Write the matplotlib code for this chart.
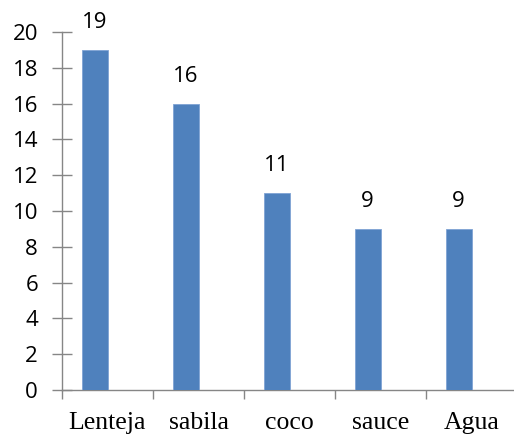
import matplotlib
matplotlib.use("Agg")
import matplotlib.pyplot as plt
import numpy as np

categories = ["Lenteja", "sabila", "coco", "sauce", "Agua"]
values = [19, 16, 11, 9, 9]
yticks = list(range(0, 21, 2))

W, H = 514, 437
fig = plt.figure(figsize=(W/100, H/100), dpi=100)
ax = fig.add_axes([62/W, 47/H, 455/W, 358/H])

x = np.arange(len(categories))
offset = -13/91
bw = 26/91
bars = ax.bar(x + offset, values, width=bw, color="#4F81BD", edgecolor="#7FA3D4", linewidth=0.6, zorder=3)
for xi, v in zip(x, values):
    ax.text(xi + offset, v + 0.95, str(v), ha="center", va="bottom",
            fontsize=16, family="Open Sans", color="#000000")

ax.set_xlim(-0.5, len(categories) - 0.5)
ax.set_ylim(0, 20)
ax.set_yticks(yticks)
ax.set_yticklabels([str(t) for t in yticks], family="Open Sans", fontsize=16)
ax.set_xticks(np.arange(len(categories) + 1) - 0.5, minor=False)
ax.set_xticklabels([""] * (len(categories) + 1))
ax.set_xticks(x, minor=True)
ax.set_xticklabels(categories, minor=True, family="Liberation Serif", fontsize=18.5)
ax.tick_params(axis="x", which="minor", length=0, pad=16)
ax.tick_params(axis="x", which="major", length=6.5, direction="out", color="#868686", width=1)
ax.tick_params(axis="y", length=13.7, direction="inout", color="#868686", width=1, pad=10.4)

for s in ["top", "right"]:
    ax.spines[s].set_visible(False)
for s in ["left", "bottom"]:
    ax.spines[s].set_color("#868686")
    ax.spines[s].set_linewidth(1)
ax.spines["left"].set_bounds(0, 20)

fig.savefig("out.png", dpi=100)
